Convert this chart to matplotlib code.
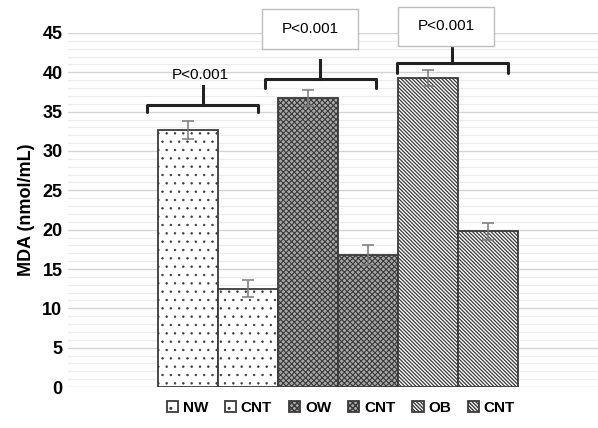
import matplotlib
matplotlib.use('Agg')
import matplotlib.pyplot as plt
from matplotlib.patches import Rectangle
from matplotlib.ticker import MultipleLocator

# ── 0. 全局设置 ────────────────────────────────────────────────
plt.rcParams['font.family'] = ['Liberation Sans', 'DejaVu Sans']

# ── 1. 数据 ───────────────────────────────────────────────────
groups = ['NW', 'CNT', 'OW', 'CNT', 'OB', 'CNT']
mda = [32.7, 12.5, 36.7, 16.8, 39.3, 19.8]
mda_err = [1.15, 1.1, 1.0, 1.3, 1.0, 1.1]
p_labels = ['P<0.001', 'P<0.001', 'P<0.001']

face = ['white', 'white', '#a8a8a8', '#a8a8a8', 'white', 'white']
hatches = ['..', '..', 'xxxxxx', 'xxxxxx', '\\' * 9, '\\' * 9]
hatch_lw = [0.5, 0.5, 0.8, 0.8, 0.9, 0.9]

# ── 2. 画图 ───────────────────────────────────────────────────
fig = plt.figure(figsize=(5.98, 4.28), dpi=100)
ax = fig.add_axes([68 / 598, 1 - 387 / 428, 530 / 598, 354 / 428])

x = list(range(len(groups)))
for i in x:
    with plt.rc_context({'hatch.linewidth': hatch_lw[i]}):
        ax.bar(i, mda[i], width=1.0, color=face[i], edgecolor='#3a3a3a',
               hatch=hatches[i], linewidth=1.3, label=groups[i], zorder=3)

ax.errorbar(x, mda, yerr=mda_err, fmt='none', ecolor='#7a7a7a',
            elinewidth=1.1, capsize=4, capthick=1.1, zorder=4)

ax.set_xlim(-2.0, 6.83)
ax.set_ylim(0, 45)
ax.yaxis.set_major_locator(MultipleLocator(5))
ax.yaxis.set_minor_locator(MultipleLocator(1))
ax.grid(which='major', axis='y', color='#d4d4d4', linewidth=1.0, zorder=0)
ax.grid(which='minor', axis='y', color='#ececec', linewidth=0.9, zorder=0)
ax.set_axisbelow(True)
for s in ax.spines.values():
    s.set_visible(False)
ax.set_xticks([])
ax.tick_params(axis='y', which='both', length=0, pad=4, labelsize=13)
for t in ax.get_yticklabels():
    t.set_fontweight('bold')
ax.set_ylabel('MDA (nmol/mL)', fontsize=13, fontweight='bold', labelpad=5)

# ── 3. 显著性括号 ─────────────────────────────────────────────
# (左, 右, 横线y, 端点y, 竖线顶y)
braces = [(-0.68, 1.17, 35.9, 34.9, 38.3),
          (1.28, 3.13, 39.2, 38.0, 41.6),
          (3.48, 5.33, 41.2, 39.9, 43.3)]
for l, r, yh, ye, yt in braces:
    c = (l + r) / 2
    ax.plot([l, l, r, r], [ye, yh, yh, ye], color='#222222', lw=2.2,
            solid_joinstyle='round', solid_capstyle='round', clip_on=False, zorder=5)
    ax.plot([c, c], [yh, yt], color='#222222', lw=2.2, clip_on=False, zorder=5)

ax.text(0.2, 39.7, p_labels[0], ha='center', va='center', fontsize=11, zorder=6)

boxes = [(1.23, 43.0, 1.6, 5.0), (3.5, 43.4, 1.6, 4.9)]
for (bx, by, bw, bh), lab in zip(boxes, p_labels[1:]):
    ax.add_patch(Rectangle((bx, by), bw, bh, facecolor='white', edgecolor='#bdbdbd',
                           linewidth=1.0, clip_on=False, zorder=6))
    ax.text(bx + bw / 2, by + bh / 2, lab, ha='center', va='center', fontsize=11,
            zorder=7, clip_on=False)

# ── 4. 图例 ───────────────────────────────────────────────────
leg = fig.legend(loc='center', bbox_to_anchor=(0.57, 0.047), ncol=6, frameon=False,
                 handlelength=0.75, handleheight=0.75, handletextpad=0.3,
                 columnspacing=1.1, prop={'weight': 'bold', 'size': 11})

fig.savefig('out.png', dpi=100)
